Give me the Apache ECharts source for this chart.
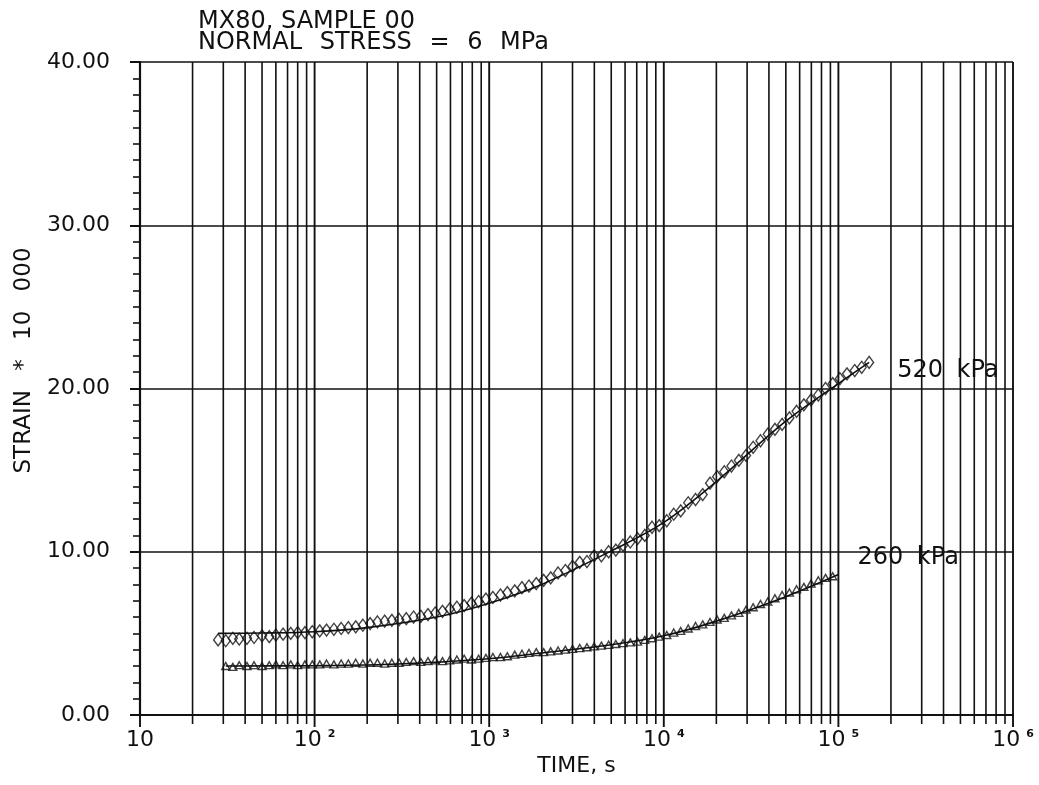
<!DOCTYPE html>
<html>
<head>
<meta charset="utf-8">
<script src="https://cdn.jsdelivr.net/npm/echarts@6/dist/echarts.min.js"></script>
<style>
html,body{margin:0;padding:0;background:#fff;}
#chart{width:1039px;height:785px;}
</style>
</head>
<body>
<div id="chart"></div>
<script>
// ---- data ----
const titleLines = ['MX80, SAMPLE 00', 'NORMAL STRESS = 6 MPa'];
const xAxisName = 'TIME, s';
const yAxisName = 'STRAIN * 10 000';
const seriesNames = ['520 kPa', '260 kPa'];
const yTicks = [0, 10, 20, 30, 40];

// measurement times (s)
const times = [28, 31, 34, 37, 41, 45, 50, 55, 60, 66,
  73, 80, 88, 97, 107, 117, 129, 142, 156, 172,
  189, 208, 229, 252, 277, 305, 335, 369, 406, 446,
  491, 540, 594, 653, 719, 791, 870, 957, 1050, 1160,
  1270, 1400, 1540, 1690, 1860, 2050, 2250, 2480, 2730, 3000,
  3300, 3630, 3990, 4390, 4830, 5310, 5840, 6430, 7070, 7780,
  8560, 9410, 10400, 11400, 12500, 13800, 15200, 16700, 18400, 20200,
  22200, 24400, 26900, 29600, 32500, 35800, 39400, 43300, 47600, 52400,
  57600, 63400, 69700, 76700, 84400, 92800, 102000, 112000, 124000, 136000,
  150000];

// 520 kPa measured strain * 10 000 (diamonds)
const strain520 = [4.6, 4.55, 4.7, 4.65, 4.7, 4.75, 4.85, 4.8, 4.9, 4.95,
  5.0, 5.05, 5.05, 5.1, 5.15, 5.2, 5.25, 5.3, 5.35, 5.4,
  5.5, 5.6, 5.7, 5.75, 5.8, 5.85, 5.9, 6.0, 6.05, 6.15,
  6.25, 6.35, 6.5, 6.6, 6.7, 6.85, 6.95, 7.1, 7.2, 7.35,
  7.5, 7.6, 7.8, 7.9, 8.05, 8.25, 8.4, 8.7, 8.85, 9.1,
  9.35, 9.4, 9.75, 9.75, 10.0, 10.1, 10.4, 10.6, 10.8, 11.0,
  11.5, 11.6, 11.9, 12.3, 12.5, 13.0, 13.2, 13.5, 14.2, 14.6,
  14.9, 15.25, 15.6, 15.9, 16.4, 16.8, 17.2, 17.5, 17.8, 18.2,
  18.6, 19.0, 19.3, 19.6, 20.0, 20.3, 20.6, 20.9, 21.1, 21.3,
  21.6];

// 260 kPa measured strain * 10 000 (triangles)
const strain260 = [null, 3.0, 2.95, 3.05, 3.0, 3.05, 3.0, 3.05, 3.1, 3.05,
  3.1, 3.05, 3.1, 3.1, 3.1, 3.15, 3.1, 3.15, 3.15, 3.2,
  3.15, 3.2, 3.2, 3.15, 3.2, 3.2, 3.25, 3.3, 3.25, 3.3,
  3.35, 3.3, 3.35, 3.4, 3.45, 3.4, 3.45, 3.5, 3.55, 3.55,
  3.6, 3.7, 3.75, 3.8, 3.85, 3.85, 3.9, 3.95, 4.0, 4.05,
  4.1, 4.15, 4.2, 4.25, 4.3, 4.35, 4.4, 4.45, 4.5, 4.6,
  4.7, 4.8, 4.9, 5.05, 5.15, 5.3, 5.45, 5.55, 5.7, 5.85,
  5.95, 6.1, 6.25, 6.45, 6.6, 6.8, 6.95, 7.15, 7.35, 7.5,
  7.7, 7.85, 8.05, 8.25, 8.4, 8.5, null, null, null, null,
  null];

// fitted curves
const fitTimes520 = [28, 50, 100, 200, 500, 1000, 2000, 5000, 10000, 20000, 50000, 100000, 150000];
const fit520 = [5.0, 5.02, 5.1, 5.35, 6.0, 6.85, 8.0, 10.05, 11.8, 14.3, 18.0, 20.3, 21.6];
const fitTimes260 = [31, 100, 300, 1000, 2000, 5000, 10000, 20000, 50000, 100000];
const fit260 = [3.0, 3.02, 3.12, 3.45, 3.8, 4.3, 4.85, 5.75, 7.25, 8.6];

// vertical grid lines of the log paper
const gridTimes = [10, 20, 30, 40, 50, 60, 70, 80, 90,
  100, 200, 300, 400, 500, 600, 700, 800, 900,
  1000, 2000, 3000, 4000, 5000, 6000, 7000, 8000, 9000,
  10000, 20000, 30000, 40000, 50000, 60000, 70000, 80000, 90000,
  100000, 200000, 300000, 400000, 500000, 600000, 700000, 800000, 900000,
  1000000];

// ---- chart ----
const FONT = 'DejaVu Sans';
const INK = '#111';
const xMin = gridTimes[0], xMax = gridTimes[gridTimes.length - 1];
const yMin = yTicks[0], yMax = yTicks[yTicks.length - 1];

function pairs(ts, vs) {
  const out = [];
  for (let i = 0; i < ts.length; i++) if (vs[i] != null) out.push([ts[i], vs[i]]);
  return out;
}
// plotter font has wide word gaps: render each space as a padded rich-text space
function wideSpaces(s) { return s.split(' ').join('{sp| }'); }

const chart = echarts.init(document.getElementById('chart'), null, {renderer: 'canvas'});
chart.setOption({
  animation: false,
  backgroundColor: '#fff',
  title: {
    text: titleLines[0] + '\n' + wideSpaces(titleLines[1]),
    left: 193, top: 6,
    textStyle: {
      fontFamily: FONT, fontSize: 24, fontWeight: 'normal', color: INK, lineHeight: 21,
      rich: {sp: {fontFamily: FONT, fontSize: 24, lineHeight: 21, color: INK, padding: [0, 5, 0, 5]}}
    }
  },
  grid: {left: 140, right: 26, top: 62, bottom: 70, containLabel: false, outerBoundsMode: 'none'},
  xAxis: {
    type: 'log', logBase: 10, min: xMin, max: xMax, splitNumber: 5,
    name: xAxisName, nameLocation: 'middle', nameGap: 40, nameMoveOverlap: false,
    nameTextStyle: {fontFamily: FONT, fontSize: 22, color: INK},
    axisLine: {show: true, onZero: false, lineStyle: {color: INK, width: 2.2}},
    axisTick: {show: false},
    minorTick: {show: false},
    splitLine: {show: false},
    axisLabel: {
      margin: 14, color: INK,
      formatter: function (v) {
        const e = Math.round(Math.log10(v));
        if (e === 1) return '{b|10}';
        return '{b|10}{s|' + e + '}';
      },
      rich: {
        b: {fontFamily: FONT, fontSize: 22, color: INK},
        s: {fontFamily: FONT, fontSize: 11, fontWeight: 'bold', color: INK, padding: [0, 0, 12, 6]}
      }
    }
  },
  yAxis: {
    type: 'value', min: yMin, max: yMax, interval: 10,
    name: wideSpaces(yAxisName), nameLocation: 'middle', nameGap: 104, nameMoveOverlap: false,
    nameTextStyle: {
      fontFamily: FONT, fontSize: 23, color: INK, padding: [0, 0, 0, 56],
      rich: {sp: {fontFamily: FONT, fontSize: 23, color: INK, padding: [0, 6, 0, 6]}}
    },
    axisLine: {show: true, onZero: false, lineStyle: {color: INK, width: 2.2}},
    axisTick: {show: true, inside: false, length: 10, lineStyle: {color: INK, width: 2}},
    minorTick: {show: true, splitNumber: 10, length: 7, lineStyle: {color: INK, width: 1.6}},
    splitLine: {show: true, lineStyle: {color: INK, width: 1.7}},
    axisLabel: {
      margin: 30, color: INK, fontFamily: FONT, fontSize: 22,
      formatter: function (v) { return v.toFixed(2); }
    }
  },
  series: [
    {
      type: 'custom', silent: true, z: 1, clip: false,
      data: gridTimes.map(function (t) { return [t, yMin]; }),
      encode: {x: 0, y: 1},
      renderItem: function (params, api) {
        const t = api.value(0);
        const b = api.coord([t, yMin]);
        const tp = api.coord([t, yMax]);
        const lg = Math.log10(t);
        const major = Math.abs(lg - Math.round(lg)) < 1e-6;
        return {
          type: 'line',
          shape: {x1: b[0], y1: b[1] + (major ? 12 : 9), x2: tp[0], y2: tp[1]},
          style: {stroke: INK, lineWidth: major ? 1.9 : 1.6}
        };
      }
    },
    {
      name: seriesNames[0] + ' fit', type: 'line', z: 3, smooth: 0.35, symbol: 'none',
      data: pairs(fitTimes520, fit520),
      lineStyle: {color: INK, width: 1.6},
      endLabel: {
        show: true, formatter: wideSpaces(seriesNames[0]), fontFamily: FONT, fontSize: 24, color: INK, offset: [20, 8],
        rich: {sp: {fontFamily: FONT, fontSize: 24, color: INK, padding: [0, 3, 0, 3]}}
      }
    },
    {
      name: seriesNames[1] + ' fit', type: 'line', z: 3, smooth: 0.35, symbol: 'none',
      data: pairs(fitTimes260, fit260),
      lineStyle: {color: INK, width: 1.6},
      endLabel: {
        show: true, formatter: wideSpaces(seriesNames[1]), fontFamily: FONT, fontSize: 24, color: INK, offset: [11, -17],
        rich: {sp: {fontFamily: FONT, fontSize: 24, color: INK, padding: [0, 3, 0, 3]}}
      }
    },
    {
      name: seriesNames[0], type: 'scatter', z: 4, symbol: 'diamond', symbolSize: [9, 12],
      data: pairs(times, strain520),
      itemStyle: {color: 'rgba(255,255,255,0)', borderColor: INK, borderWidth: 1.4}
    },
    {
      name: seriesNames[1], type: 'scatter', z: 4, symbol: 'triangle', symbolSize: [8, 7],
      data: pairs(times, strain260),
      itemStyle: {color: 'rgba(255,255,255,0)', borderColor: INK, borderWidth: 1.4}
    }
  ]
});
</script>
</body>
</html>
